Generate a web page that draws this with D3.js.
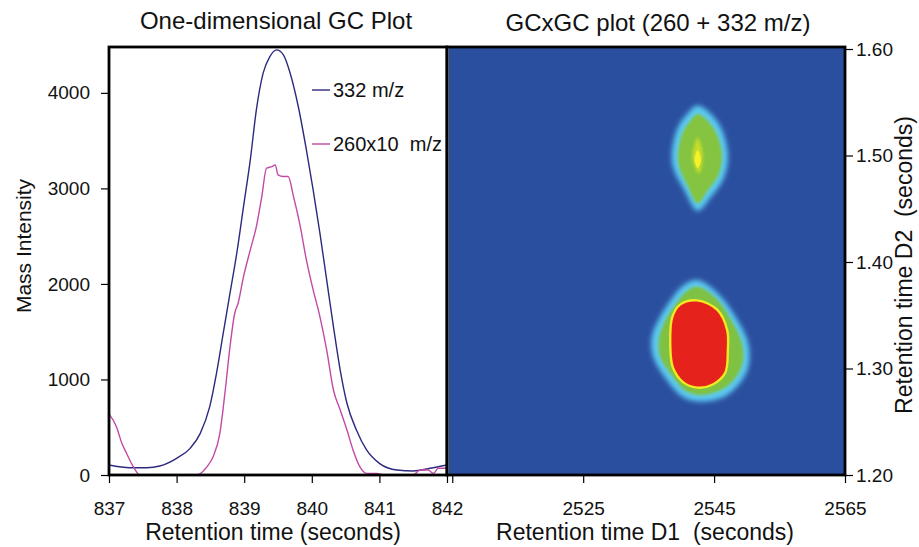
<!DOCTYPE html>
<html>
<head>
<meta charset="utf-8">
<script src="https://cdn.jsdelivr.net/npm/d3@7.9.0/dist/d3.min.js"></script>
<style>
  body { margin: 0; background: #fff; }
  svg { display: block; font-family: "Liberation Sans", Arial, sans-serif; }
</style>
</head>
<body>
<svg id="chart" width="919" height="547"></svg>
<script>
// ---- data ----
// one-dimensional trace: [retention time (s), intensity]
const trace332 = [
  [837.00, 105], [837.31, 76], [837.56, 76], [837.75, 94], [838.00, 175], [838.20, 279],
  [838.35, 436], [838.49, 715], [838.59, 1065], [838.69, 1484], [838.79, 1903], [838.89, 2321],
  [838.99, 2810], [839.09, 3298], [839.18, 3822], [839.28, 4206], [839.38, 4380], [839.48, 4450],
  [839.58, 4398], [839.68, 4206], [839.80, 3857], [839.92, 3403], [840.02, 2984], [840.12, 2531],
  [840.22, 2042], [840.32, 1553], [840.42, 1099], [840.52, 751], [840.66, 471], [840.81, 262],
  [841.00, 122], [841.26, 52], [841.50, 42], [841.75, 70], [842.00, 105]
];
const trace260 = [
  [837.00, 640], [837.11, 506], [837.19, 332], [837.26, 227], [837.36, 87], [837.46, 0],
  [838.30, 0], [838.45, 87], [838.54, 192], [838.64, 436], [838.72, 890], [838.79, 1343],
  [838.86, 1693], [838.91, 1798], [838.99, 2077], [839.09, 2356], [839.18, 2600], [839.26, 2914],
  [839.33, 3211], [839.41, 3228], [839.46, 3246], [839.50, 3141], [839.58, 3124], [839.65, 3124],
  [839.73, 2914], [839.83, 2600], [839.92, 2251], [840.02, 1937], [840.12, 1658], [840.22, 1309],
  [840.32, 890], [840.42, 681], [840.52, 471], [840.61, 262], [840.71, 87], [840.81, 17],
  [840.96, 17], [841.06, 0], [841.50, 0], [841.60, 52], [841.72, 52], [841.80, 17],
  [841.87, 70], [842.00, 70]
];
const seriesNames = ["332 m/z", "260x10  m/z"];
const leftXTicks = [837, 838, 839, 840, 841, 842];
const leftYTicks = [0, 1000, 2000, 3000, 4000];

// GCxGC contour outlines: [D1 (s), D2 (s)], one array per level, outer to inner
const upperHalo = [
  [2542.5, 1.547], [2545.6, 1.531], [2547.1, 1.502], [2546.5, 1.479], [2544.4, 1.460],
  [2542.5, 1.448], [2540.5, 1.467], [2538.6, 1.493], [2539.3, 1.524], [2540.9, 1.539]
];
const upperGreen = [
  [2542.5, 1.539], [2544.9, 1.526], [2546.2, 1.502], [2545.7, 1.482], [2543.9, 1.466],
  [2542.5, 1.455], [2541.0, 1.471], [2539.5, 1.494], [2540.1, 1.520], [2541.3, 1.532]
];
const upperStreak = [[2542.5, 1.517], [2543.3, 1.500], [2542.7, 1.483], [2541.7, 1.498]];
const upperCore = [[2542.5, 1.505], [2543.0, 1.496], [2542.5, 1.488], [2542.0, 1.496]];
const lowerHalo = [
  [2542.4, 1.383], [2545.5, 1.371], [2547.9, 1.352], [2550.2, 1.324], [2550.2, 1.301],
  [2548.5, 1.283], [2546.4, 1.273], [2542.9, 1.269], [2540.3, 1.273], [2537.8, 1.289],
  [2535.7, 1.311], [2535.5, 1.330], [2536.7, 1.348], [2538.7, 1.367], [2540.3, 1.378]
];
const lowerGreen = [
  [2542.4, 1.377], [2545.3, 1.366], [2547.3, 1.349], [2549.3, 1.323], [2549.3, 1.303],
  [2547.7, 1.287], [2545.8, 1.279], [2542.8, 1.275], [2540.6, 1.279], [2538.6, 1.293],
  [2536.7, 1.312], [2536.6, 1.329], [2537.6, 1.346], [2539.3, 1.362], [2540.7, 1.372]
];
const lowerRed = [
  [2542.4, 1.364], [2545.5, 1.355], [2547.0, 1.336], [2547.1, 1.317], [2546.7, 1.296],
  [2544.8, 1.285], [2542.5, 1.282], [2540.3, 1.287], [2538.7, 1.301], [2538.3, 1.324],
  [2538.6, 1.348], [2539.8, 1.360]
];
const rightXTicks = [2505, 2525, 2545, 2565];
const rightXLabels = ["", "2525", "2545", "2565"];
const rightYTicks = [1.2, 1.3, 1.4, 1.5, 1.6];

// ---- layout ----
const svg = d3.select("#chart");
const plotTop = 47, plotBottom = 475;
const xL = d3.scaleLinear().domain([837, 842]).range([109, 447]);
const yL = d3.scaleLinear().domain([0, 4480]).range([plotBottom, plotTop]);
const xR = d3.scaleLinear().domain([2504.5, 2565]).range([449, 845]);
const yR = d3.scaleLinear().domain([1.2, 1.6]).range([plotBottom, 49]);

const tickFont = "19px";
const defs = svg.append("defs");

// ---- left panel ----
const lineGen = d3.line().x(d => xL(d[0])).y(d => yL(d[1])).curve(d3.curveMonotoneX);

defs.append("clipPath").attr("id", "clipL")
  .append("rect").attr("x", 109).attr("y", plotTop).attr("width", 338).attr("height", plotBottom - plotTop);

const gL = svg.append("g").attr("clip-path", "url(#clipL)");
gL.append("path").datum(trace332).attr("d", lineGen)
  .attr("fill", "none").attr("stroke", "#2b2a80").attr("stroke-width", 1.4);
gL.append("path").datum(trace260).attr("d", lineGen)
  .attr("fill", "none").attr("stroke", "#c24aa4").attr("stroke-width", 1.4);

// legend
const legColors = ["#2b2a80", "#c24aa4"];
seriesNames.forEach((name, i) => {
  const y = 90 + i * 54;
  svg.append("line").attr("x1", 312).attr("x2", 330).attr("y1", y).attr("y2", y)
    .attr("stroke", legColors[i]).attr("stroke-width", 1.4);
  svg.append("text").attr("x", 333).attr("y", y + 7).attr("font-size", "20px")
    .attr("fill", "#111").style("white-space", "pre").text(name);
});

// left axes
svg.append("g").attr("transform", `translate(109,0)`)
  .call(d3.axisLeft(yL).tickValues(leftYTicks).tickSize(8).tickPadding(11).tickFormat(d3.format("d")));
svg.append("g").attr("transform", `translate(0,${plotBottom})`)
  .call(d3.axisBottom(xL).tickValues(leftXTicks).tickSize(8).tickPadding(19).tickFormat(d3.format("d")));

// ---- right panel ----
defs.append("clipPath").attr("id", "clipR")
  .append("rect").attr("x", 449).attr("y", plotTop).attr("width", 396).attr("height", plotBottom - plotTop);
[["blur3", 2.4], ["blur2", 1.6], ["blur1", 0.6]].forEach(([id, s]) => {
  defs.append("filter").attr("id", id).attr("x", "-50%").attr("y", "-50%")
    .attr("width", "200%").attr("height", "200%")
    .append("feGaussianBlur").attr("stdDeviation", s);
});

const gR = svg.append("g").attr("clip-path", "url(#clipR)");
gR.append("rect").attr("x", 449).attr("y", plotTop).attr("width", 396).attr("height", plotBottom - plotTop)
  .attr("fill", "#2b4f9f");

const area = d3.line().x(d => xR(d[0])).y(d => yR(d[1])).curve(d3.curveCatmullRomClosed);

const layers = [
  [upperHalo, "#5ccbf2", "blur3"],
  [upperGreen, "#84c441", "blur2"],
  [upperStreak, "#c4dc2c", "blur2"],
  [upperCore, "#f6f22a", "blur1"],
  [lowerHalo, "#5ccbf2", "blur3"],
  [lowerGreen, "#7fc142", "blur2"]
];
layers.forEach(([pts, col, f]) => {
  gR.append("path").datum(pts).attr("d", area).attr("fill", col).attr("filter", `url(#${f})`);
});
gR.append("path").datum(lowerRed).attr("d", area)
  .attr("fill", "#e5231c").attr("stroke", "#f2ea20").attr("stroke-width", 2.4);

// right axes
svg.append("g").attr("transform", `translate(845,0)`)
  .call(d3.axisRight(yR).tickValues(rightYTicks).tickSize(8).tickPadding(3).tickFormat(d3.format(".2f")));
svg.append("g").attr("transform", `translate(0,${plotBottom})`)
  .call(d3.axisBottom(xR).tickValues(rightXTicks).tickSize(8).tickPadding(19)
    .tickFormat((d, i) => rightXLabels[i]));

// frames
svg.append("rect").attr("x", 109).attr("y", plotTop).attr("width", 338).attr("height", plotBottom - plotTop)
  .attr("fill", "none").attr("stroke", "#000").attr("stroke-width", 2.8);
svg.append("rect").attr("x", 447).attr("y", plotTop).attr("width", 398).attr("height", plotBottom - plotTop)
  .attr("fill", "none").attr("stroke", "#000").attr("stroke-width", 2.8);

// axis styling
svg.selectAll(".domain").remove();
svg.selectAll(".tick line").attr("stroke", "#000").attr("stroke-width", 1.2);
svg.selectAll(".tick text").attr("font-size", tickFont).attr("fill", "#111")
  .attr("font-family", "'Liberation Sans', Arial, sans-serif");

// ---- titles ----
const txt = (x, y, s, size, rot) => {
  const t = svg.append("text").attr("text-anchor", "middle").attr("font-size", size)
    .attr("fill", "#111").style("white-space", "pre").text(s);
  if (rot) t.attr("transform", `translate(${x},${y}) rotate(${rot})`);
  else t.attr("x", x).attr("y", y);
};
txt(276, 29, "One-dimensional GC Plot", "24px");
txt(658, 31, "GCxGC plot (260 + 332 m/z)", "24px");
txt(273, 540, "Retention time (seconds)", "23px");
txt(645, 540, "Retention time D1  (seconds)", "23px");
txt(31, 246, "Mass Intensity", "21px", -90);
txt(912, 265, "Retention time D2  (seconds)", "23px", -90);
</script>
</body>
</html>
